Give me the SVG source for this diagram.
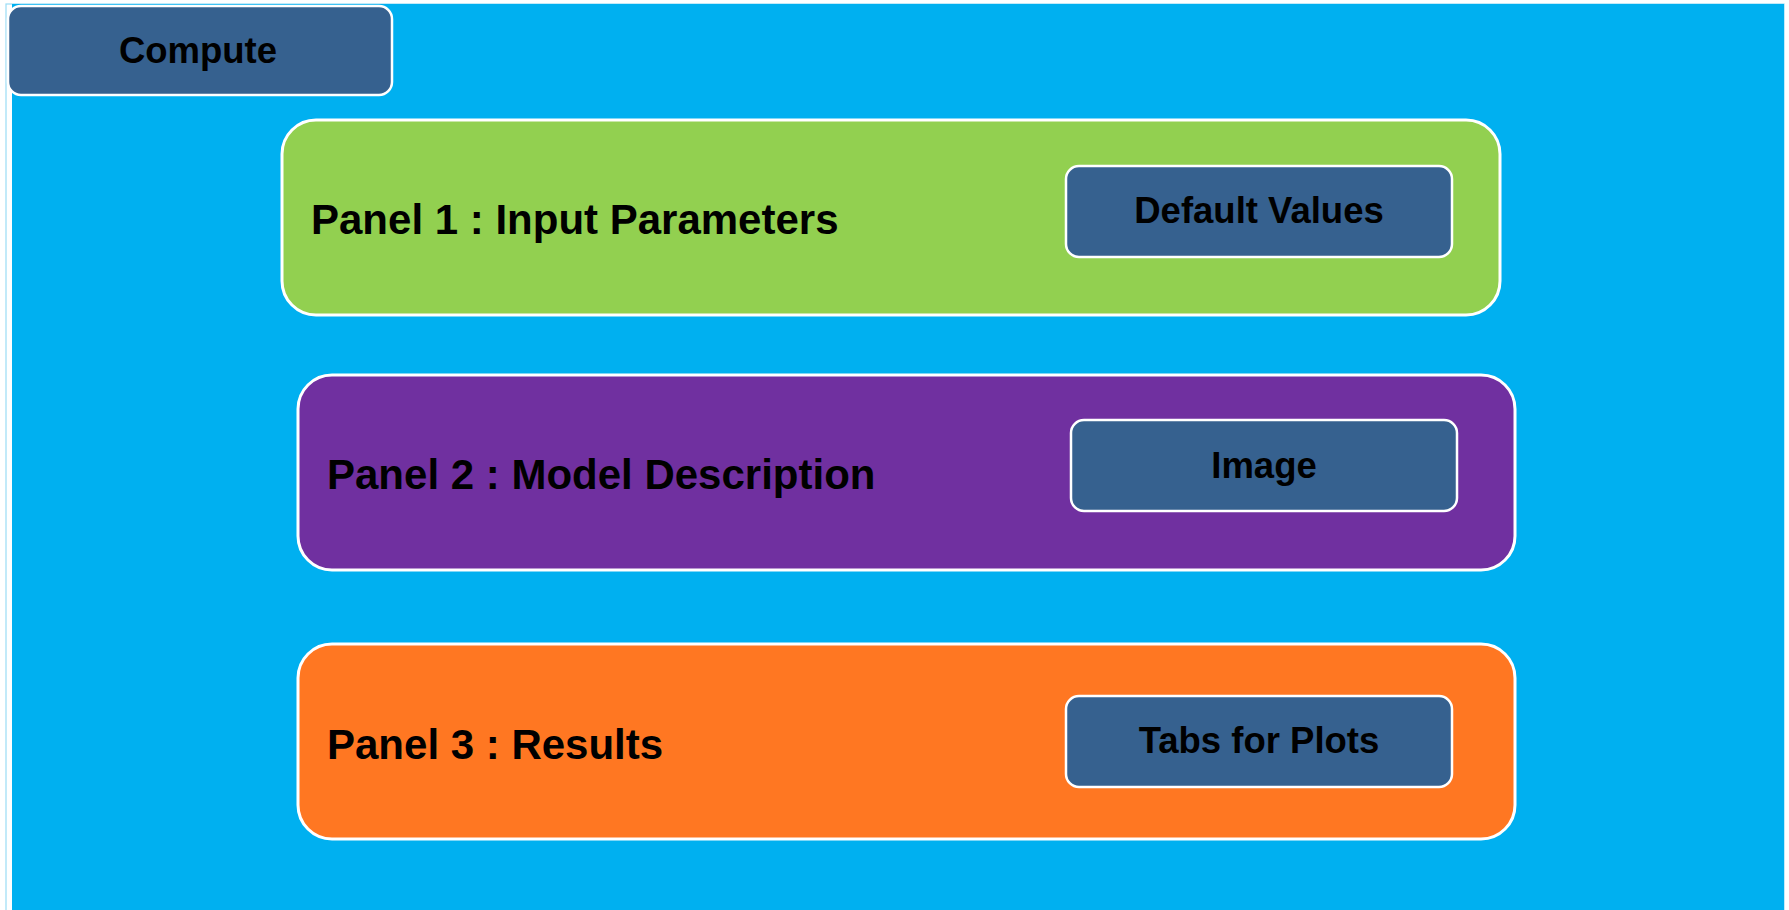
<svg xmlns="http://www.w3.org/2000/svg" width="1789" height="910" viewBox="0 0 1789 910">
<style>
.lbl{font-family:"Liberation Sans",Arial,sans-serif;font-weight:bold;font-size:36.5px;fill:#000}
.big{font-size:42px}
.mid{text-anchor:middle}
.btn{fill:#36618F;stroke:#fff;stroke-width:2.5}
.panel{stroke:#fff;stroke-width:3}
</style>
<rect x="0" y="0" width="1789" height="910" fill="#fff"/>
<g id="background">
<rect x="6" y="4" width="1778" height="910" fill="#fff" stroke="#9ADCF6" stroke-width="1.2"/>
<rect x="12" y="4" width="1772" height="906" fill="#00B0F0"/>
</g>
<g id="compute">
<rect class="btn" x="8" y="6" width="384" height="89" rx="13"/>
<text class="lbl mid" x="198" y="63">Compute</text>
</g>
<g id="panel1">
<rect class="panel" x="282" y="120" width="1218" height="195" rx="34" fill="#92D050"/>
<text class="lbl big" x="311" y="234">Panel 1 : Input Parameters</text>
</g>
<g id="default-values">
<rect class="btn" x="1066" y="166" width="386" height="91" rx="13"/>
<text class="lbl mid" x="1259" y="223">Default Values</text>
</g>
<g id="panel2">
<rect class="panel" x="298" y="375" width="1217" height="195" rx="34" fill="#7030A0"/>
<text class="lbl big" x="327" y="489">Panel 2 : Model Description</text>
</g>
<g id="image">
<rect class="btn" x="1071" y="420" width="386" height="91" rx="13"/>
<text class="lbl mid" x="1264" y="478">Image</text>
</g>
<g id="panel3">
<rect class="panel" x="298" y="644" width="1217" height="195" rx="34" fill="#FF7722"/>
<text class="lbl big" x="327" y="759">Panel 3 : Results</text>
</g>
<g id="tabs-for-plots">
<rect class="btn" x="1066" y="696" width="386" height="91" rx="13"/>
<text class="lbl mid" x="1259" y="753">Tabs for Plots</text>
</g>
<g id="connectors"/>
</svg>
